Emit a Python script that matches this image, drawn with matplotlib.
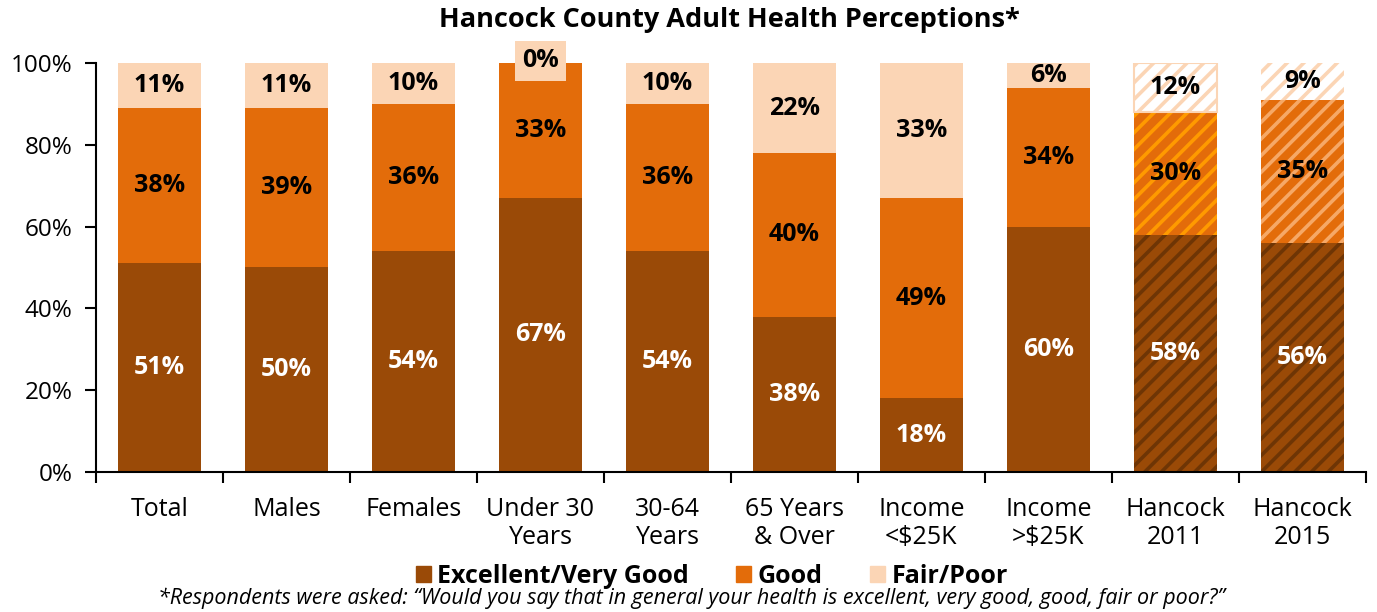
import numpy as np
import matplotlib.pyplot as plt
from matplotlib.patches import Patch

plt.rcParams['font.family'] = ['Open Sans', 'DejaVu Sans']
plt.rcParams['hatch.linewidth'] = 2.6

categories = ['Total', 'Males', 'Females', 'Under 30\nYears', '30-64\nYears',
              '65 Years\n& Over', 'Income\n<$25K', 'Income\n>$25K',
              'Hancock\n2011', 'Hancock\n2015']
excellent = [51, 50, 54, 67, 54, 38, 18, 60, 58, 56]
good = [38, 39, 36, 33, 36, 40, 49, 34, 30, 35]
fair = [11, 11, 10, 0, 10, 22, 33, 6, 12, 9]

c_exc = '#9A4A07'
c_good = '#E36C0A'
c_fair = '#FBD5B5'

fig, ax = plt.subplots(figsize=(13.77, 6.12), dpi=100)
fig.subplots_adjust(left=0.0697, right=0.992, bottom=0.229, top=0.897)

x = np.arange(len(categories))
w = 0.66
exc = np.array(excellent)
gd = np.array(good)
fr = np.array(fair)

# plain bars for the first eight groups
n = 8
ax.bar(x[:n], exc[:n], w, color=c_exc, linewidth=0)
ax.bar(x[:n], gd[:n], w, bottom=exc[:n], color=c_good, linewidth=0)
ax.bar(x[:n], fr[:n], w, bottom=(exc + gd)[:n], color=c_fair, linewidth=0)

# hatched bars for the county years
hx = x[n:]
ax.bar(hx, exc[n:], w, color=c_exc, edgecolor='#6E3505', hatch='//', linewidth=0)
ax.bar(hx[0], gd[n], w, bottom=exc[n], color=c_good, edgecolor='#FF9A00', hatch='//', linewidth=0)
ax.bar(hx[1], gd[n + 1], w, bottom=exc[n + 1], color=c_good, edgecolor='#F6A866', hatch='//', linewidth=0)
ax.bar(hx[0], fr[n], w, bottom=exc[n] + gd[n], color='white', edgecolor=c_fair, hatch='//', linewidth=1.5)
ax.bar(hx[1], fr[n + 1], w, bottom=exc[n + 1] + gd[n + 1], color='white', edgecolor=c_fair, hatch='//', linewidth=0)

# value labels
lab = dict(fontsize=18, fontweight='bold', ha='center', va='center')
for i in x:
    ax.text(i, exc[i] / 2, f'{exc[i]}%', color='white', **lab)
    ax.text(i, exc[i] + gd[i] / 2, f'{gd[i]}%', color='black', **lab)
    if fr[i] == 0:
        ax.text(i, 100.5, f'{fr[i]}%', color='black',
                bbox=dict(boxstyle='square,pad=0.3', fc=c_fair, ec='none'), **lab)
    else:
        ax.text(i, exc[i] + gd[i] + fr[i] / 2, f'{fr[i]}%', color='black', **lab)

ax.set_xlim(-0.5, len(categories) - 0.5)
ax.set_ylim(0, 100)
ax.set_yticks(np.arange(0, 101, 20))
ax.set_yticklabels([f'{v}%' for v in range(0, 101, 20)])
ax.set_xticks(x)
ax.set_xticklabels(categories, linespacing=1.15)
ax.set_xticks(np.arange(-0.5, len(categories), 1), minor=True)
ax.tick_params(axis='x', which='major', length=0, pad=18, labelsize=18)
ax.tick_params(axis='x', which='minor', length=8, width=1.5, direction='out')
ax.tick_params(axis='y', length=8, width=1.5, direction='out', labelsize=17.5, pad=9)

for s in ['top', 'right']:
    ax.spines[s].set_visible(False)
for s in ['left', 'bottom']:
    ax.spines[s].set_linewidth(1.5)

fig.suptitle('Hancock County Adult Health Perceptions*', fontsize=19.5,
             fontweight='bold', x=0.53, y=0.988)

handles = [Patch(color=c_exc, label='Excellent/Very Good'),
           Patch(color=c_good, label='Good'),
           Patch(color=c_fair, label='Fair/Poor')]
fig.legend(handles=handles, loc='center', bbox_to_anchor=(0.517, 0.058), ncol=3,
           frameon=False, handlelength=0.6, handleheight=0.6, handletextpad=0.25,
           columnspacing=1.9, borderpad=0, prop={'weight': 'bold', 'size': 18})

fig.text(0.502, 0.022, '*Respondents were asked: \u201cWould you say that in general your health '
         'is excellent, very good, good, fair or poor?\u201d', ha='center', va='center',
         fontsize=15.5, style='italic')

fig.savefig('out.png', dpi=100)
